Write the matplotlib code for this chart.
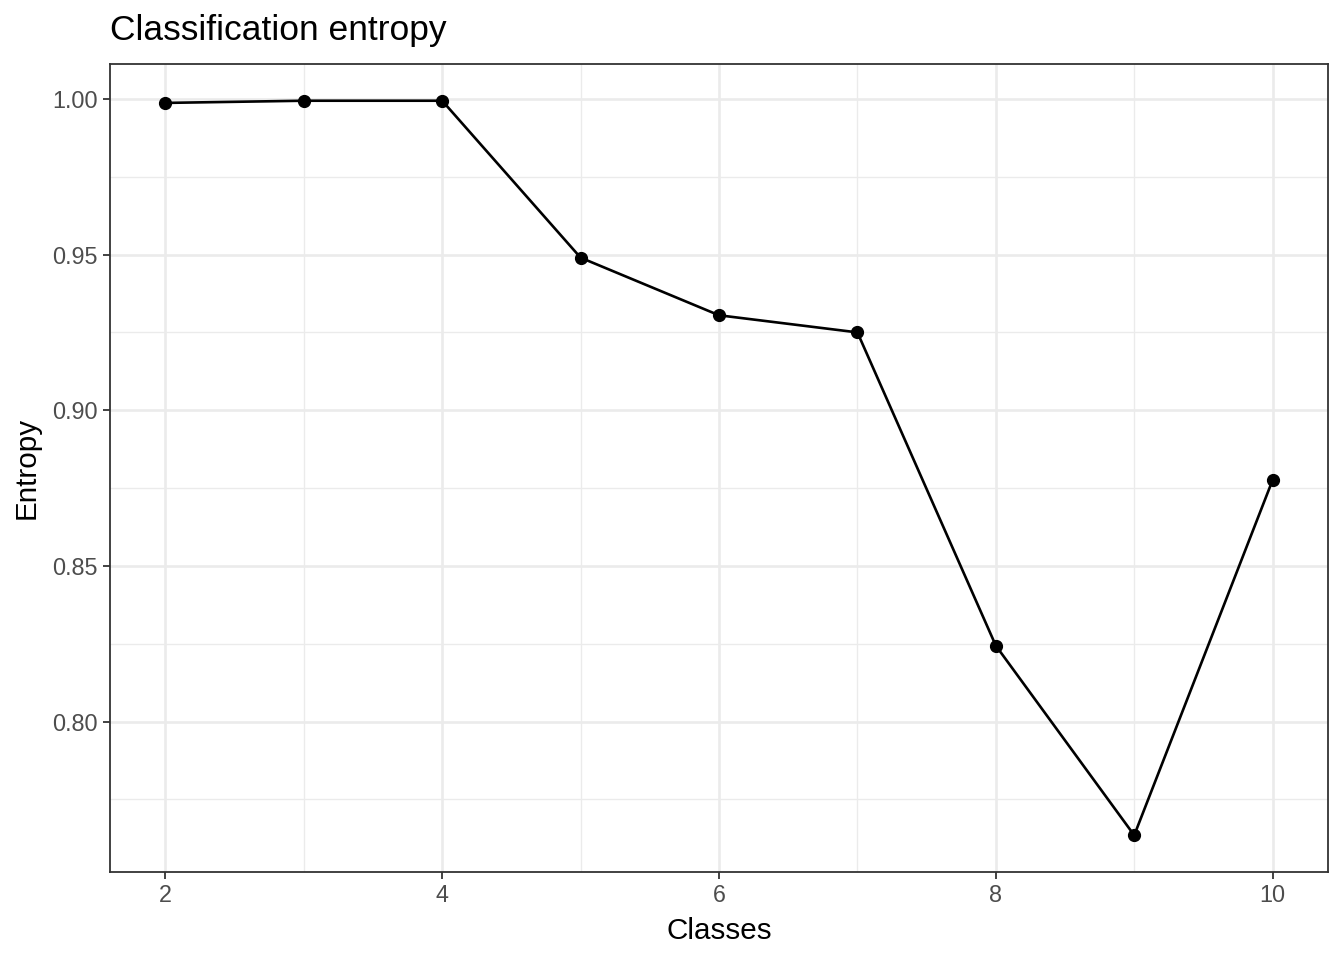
import matplotlib
matplotlib.use("Agg")
import matplotlib.pyplot as plt
from matplotlib.ticker import MultipleLocator

plt.rcParams['font.family'] = ['Liberation Sans', 'DejaVu Sans']

# values
classes = [2, 3, 4, 5, 6, 7, 8, 9, 10]
entropy = [0.9987, 0.9994, 0.9994, 0.9490, 0.9305, 0.9250, 0.8244, 0.7635, 0.8776]

x_ticks = [2, 4, 6, 8, 10]
y_ticks = [0.80, 0.85, 0.90, 0.95, 1.00]

fig = plt.figure(figsize=(13.44, 9.6), dpi=100)
ax = fig.add_axes([110 / 1344, 1 - 872 / 960, 1218 / 1344, 808 / 960])

ax.plot(classes, entropy, color='black', linewidth=1.9, marker='o', markersize=8.5, zorder=3)

# ggplot-like 5% expansion
xr = max(classes) - min(classes)
yr = max(entropy) - min(entropy)
ax.set_xlim(min(classes) - 0.05 * xr, max(classes) + 0.05 * xr)
ax.set_ylim(min(entropy) - 0.05 * yr, max(entropy) + 0.05 * yr)

ax.set_xticks(x_ticks)
ax.set_yticks(y_ticks)
ax.set_yticklabels(['{:.2f}'.format(v) for v in y_ticks])
ax.xaxis.set_minor_locator(MultipleLocator(1))
ax.yaxis.set_minor_locator(MultipleLocator(0.025))

ax.grid(True, which='major', color='#EBEBEB', linewidth=1.9, zorder=0)
ax.grid(True, which='minor', color='#EBEBEB', linewidth=0.95, zorder=0)
ax.set_axisbelow(True)
ax.tick_params(which='minor', length=0)
ax.tick_params(which='major', length=5, width=1.3, color='#333333',
               labelsize=16.8, labelcolor='#4D4D4D', pad=4)

for s in ax.spines.values():
    s.set_color('#333333')
    s.set_linewidth(1.3)

ax.set_xlabel('Classes', fontsize=21.3, labelpad=7)
ax.set_ylabel('Entropy', fontsize=21.3, labelpad=8)
ax.set_title('Classification entropy', fontsize=25.5, loc='left', pad=17)

fig.savefig('out.png', dpi=100)
